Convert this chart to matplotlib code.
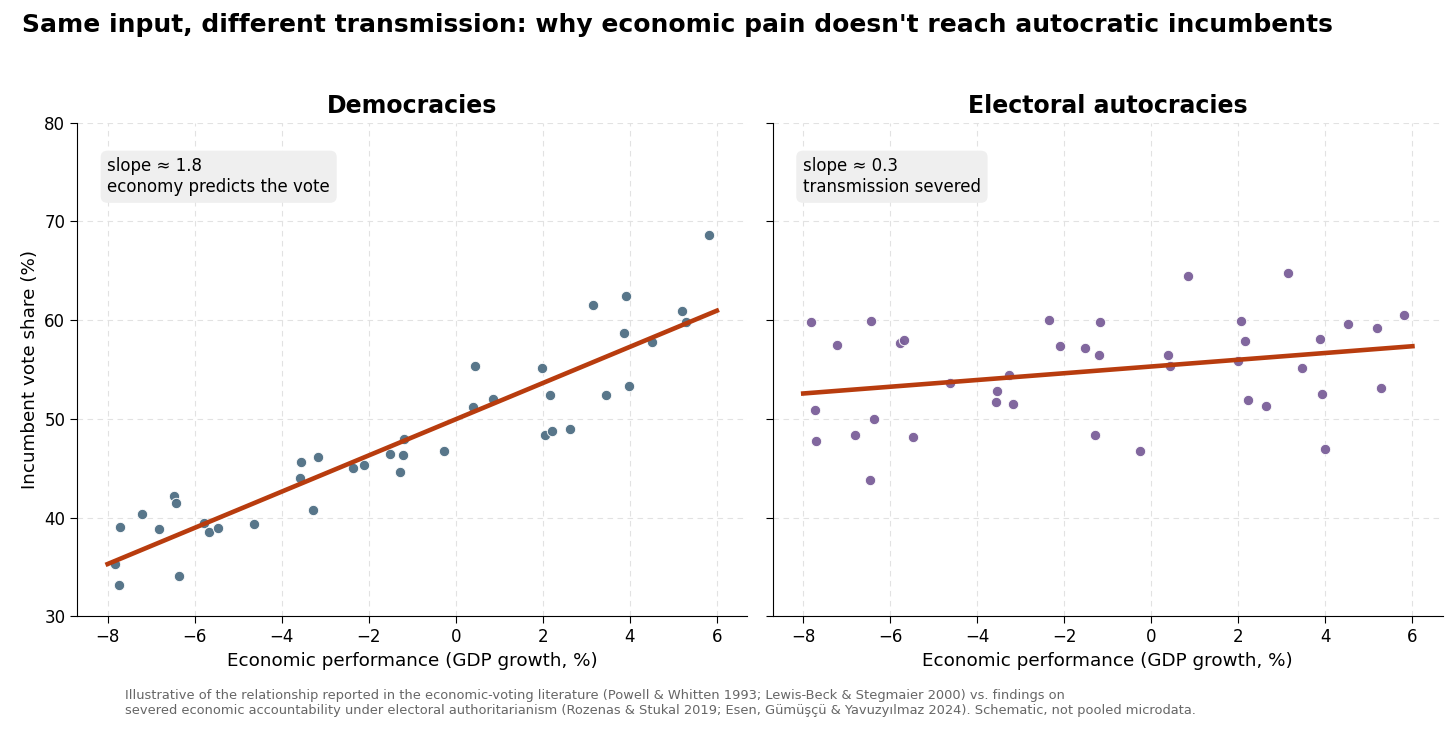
import numpy as np
import matplotlib.pyplot as plt

# GDP growth (%) shared by both panels
gdp_growth = [-7.82, -7.73, -7.71, -7.22, -6.82, -6.47, -6.44, -6.37, -5.78, -5.68,
              -5.47, -4.63, -3.57, -3.55, -3.27, -3.17, -2.36, -2.11, -1.52, -1.29,
              -1.21, -1.18, -0.27, 0.39, 0.44, 0.85, 1.99, 2.05, 2.16, 2.22,
              2.63, 3.15, 3.46, 3.87, 3.92, 3.99, 4.51, 5.19, 5.28, 5.81]

# incumbent vote share (%)
vote_democracies = [35.3, 33.2, 39.0, 40.4, 38.8, 42.2, 41.5, 34.1, 39.4, 38.5,
                    38.9, 39.3, 44.0, 45.65, 40.8, 46.1, 45.0, 45.3, 46.4, 44.6,
                    46.3, 48.0, 46.7, 51.2, 55.4, 52.0, 55.15, 48.4, 52.4, 48.8,
                    49.0, 61.5, 52.4, 58.7, 62.4, 53.3, 57.8, 60.9, 59.8, 68.6]
vote_autocracies = [59.8, 50.9, 47.75, 57.5, 48.4, 43.8, 59.9, 50.0, 57.7, 58.0,
                    48.2, 53.6, 51.7, 52.8, 54.4, 51.5, 60.0, 57.4, 57.2, 48.4,
                    56.5, 59.8, 46.7, 56.5, 55.4, 64.5, 55.9, 59.9, 57.85, 51.95,
                    51.35, 64.75, 55.2, 58.1, 52.55, 46.9, 59.6, 59.25, 53.1, 60.55]

panels = [
    ("Democracies", vote_democracies, "#4f6f84", "slope \u2248 1.8\neconomy predicts the vote"),
    ("Electoral autocracies", vote_autocracies, "#7a5f99", "slope \u2248 0.3\ntransmission severed"),
]

line_color = "#b83c0e"

fig, axes = plt.subplots(1, 2, figsize=(14.56, 7.31), dpi=100, sharey=True)
fig.subplots_adjust(left=0.053, right=0.991, top=0.832, bottom=0.157, wspace=0.038)

x = np.array(gdp_growth)
x_line = np.array([-8.0, 6.0])

for ax, (title, votes, color, note) in zip(axes, panels):
    y = np.array(votes)
    ax.scatter(x, y, s=56, color=color, edgecolor="white", linewidth=0.7, alpha=0.95, zorder=3)
    b1, b0 = np.polyfit(x, y, 1)
    ax.plot(x_line, b0 + b1 * x_line, color=line_color, linewidth=3.3, zorder=4)

    ax.set_title(title, fontsize=17, fontweight="bold", pad=7)
    ax.set_xlabel("Economic performance (GDP growth, %)", fontsize=13.2)
    ax.set_ylim(30, 80)
    ax.set_xticks([-8, -6, -4, -2, 0, 2, 4, 6])
    ax.set_yticks([30, 40, 50, 60, 70, 80])
    ax.tick_params(labelsize=12, length=5)
    ax.grid(True, linestyle=(0, (5, 4)), color="#e2e2e2", linewidth=0.8)
    ax.set_axisbelow(True)
    for side in ["top", "right"]:
        ax.spines[side].set_visible(False)

    ax.text(0.045, 0.93, note, transform=ax.transAxes, fontsize=12,
            va="top", ha="left",
            bbox=dict(boxstyle="round,pad=0.4", facecolor="#efefef", edgecolor="none"))

axes[0].set_ylabel("Incumbent vote share (%)", fontsize=13.2)

fig.text(0.015, 0.966, "Same input, different transmission: why economic pain doesn't reach autocratic incumbents",
         fontsize=18, fontweight="bold", ha="left", va="center")

fig.text(0.086, 0.019,
         "Illustrative of the relationship reported in the economic-voting literature (Powell & Whitten 1993; Lewis-Beck & Stegmaier 2000) vs. findings on\n"
         "severed economic accountability under electoral authoritarianism (Rozenas & Stukal 2019; Esen, G\u00fcm\u00fc\u015f\u00e7\u00fc & Yavuzy\u0131lmaz 2024). Schematic, not pooled microdata.",
         fontsize=9.35, color="#666666", ha="left", va="bottom")

fig.savefig("out.png", dpi=100)
